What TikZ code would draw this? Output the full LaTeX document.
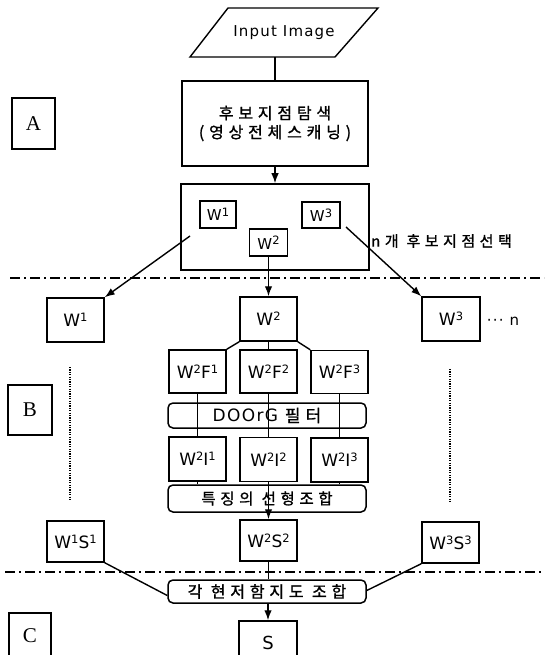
\documentclass[tikz,border=0pt]{standalone}
\usepackage{fontspec}
\setmainfont[LetterSpace=8]{DejaVu Sans}
\newfontfamily\kr[LetterSpace=30,FakeBold=1.2]{Noto Sans CJK KR}
\newfontfamily\tms{Liberation Serif}
\usetikzlibrary{arrows.meta}
\newcommand\supx[1]{\raisebox{0.3em}{\fontsize{11.5}{11}\selectfont #1}}
\begin{document}
\begin{tikzpicture}[x=1pt,y=-1pt,
  bx/.style={draw, line width=1.5pt, inner sep=0pt, font=\fontsize{17}{18}\selectfont},
  rbx/.style={bx, rounded corners=5pt},
  krt/.style={font=\kr\fontsize{16}{19}\selectfont},
  lbl/.style={draw, line width=1.1pt, inner sep=0pt, font=\tms\fontsize{21}{22}\selectfont},
  ln/.style={line width=1.4pt},
  ar/.style={ln, -{Latex[length=10pt,width=7.5pt]}},
  dd/.style={line width=2pt, dash pattern=on 10pt off 4pt on 2pt off 4pt},
  dt/.style={line width=2.2pt, dash pattern=on 1.2pt off 1.2pt}]
\useasboundingbox (0,0) rectangle (544,655);
\clip (0,0) rectangle (544,655);
\fill[white] (0,0) rectangle (544,655);

% input
\draw[ln] (228,8) -- (378,8) -- (335,57) -- (190,57) -- cycle;
\node[inner sep=0pt, minimum height=49pt, font=\fontsize{15}{16}\selectfont] (inp) at (284,32.5) {Input Image};

% stage A
\node[bx, krt, minimum width=186pt, minimum height=85pt, align=center] (b1) at (275,123.5) {후보지점탐색\\[0pt](영상전체스캐닝)};
\node[bx, minimum width=188pt, minimum height=86pt] (b2) at (275,227) {};
\node[bx, minimum width=36pt, minimum height=27pt, font=\fontsize{15}{16}\selectfont] (w1s) at (218,214.5) {W\supx{1}};
\node[bx, minimum width=38pt, minimum height=26pt, font=\fontsize{15}{16}\selectfont] (w3s) at (321,215) {W\supx{3}};
\node[bx, minimum width=38pt, minimum height=27pt, font=\fontsize{15}{16}\selectfont] (w2s) at (268.5,242.5) {W\supx{2}};
\node[anchor=west, inner sep=0pt, font=\kr\fontsize{15}{16}\selectfont] (sel) at (371,241) {n개 후보지점선택};

\node[lbl, minimum width=43pt, minimum height=51pt] (A) at (33.5,123.5) {A};
\node[lbl, minimum width=44pt, minimum height=50pt] (B) at (30,410) {B};
\node[lbl, minimum width=42pt, minimum height=46pt] (C) at (30,636) {C};

\draw[ln] (inp.south -| b1.north) -- (b1.north);
\draw[ar] (b1.south) -- (b2.north);

\draw[dd] (10,278) -- (544,278);

% stage B
\node[bx, minimum width=57pt, minimum height=44pt] (w1b) at (75.5,320) {W\supx{1}};
\node[bx, minimum width=57pt, minimum height=44pt] (w2b) at (268.5,319) {W\supx{2}};
\node[bx, minimum width=58pt, minimum height=44pt] (w3b) at (451,319) {W\supx{3}};
\node[inner sep=0pt, font=\fontsize{15}{16}\selectfont] (dots) at (503,321) {··· n};

\coordinate (la) at (190,236);
\coordinate (ra) at (346,227);
\draw[ar] (la) -- (w1b.north east);
\draw[ar] (w2s.south) -- (w2b.north);
\draw[ar] (ra) -- (w3b.north west);

\node[bx, minimum width=57pt, minimum height=43pt] (f1) at (197.5,371.5) {W\supx{2}F\supx{1}};
\node[bx, minimum width=57pt, minimum height=43pt] (f2) at (268.5,371.5) {W\supx{2}F\supx{2}};
\node[bx, minimum width=57pt, minimum height=43pt] (f3) at (339.5,372) {W\supx{2}F\supx{3}};

\node[rbx, minimum width=198pt, minimum height=25pt, font=\fontsize{17}{18}\selectfont] (dog) at (267,415.5) {DOOrG {\kr\fontsize{17}{18}\selectfont 필터}};

\node[bx, minimum width=57pt, minimum height=44pt] (i1) at (197.5,459) {W\supx{2}I\supx{1}};
\node[bx, minimum width=57pt, minimum height=44pt] (i2) at (268.5,459.5) {W\supx{2}I\supx{2}};
\node[bx, minimum width=57pt, minimum height=44pt] (i3) at (339.5,460) {W\supx{2}I\supx{3}};

\node[rbx, minimum width=198pt, minimum height=27pt, font=\kr\fontsize{15.5}{16}\selectfont] (lin) at (267,498.5) {특징의 선형조합};

\node[bx, minimum width=57pt, minimum height=41pt] (s1) at (75.5,541.5) {W\supx{1}S\supx{1}};
\node[bx, minimum width=57pt, minimum height=41pt] (s2) at (268.5,540.5) {W\supx{2}S\supx{2}};
\node[bx, minimum width=57pt, minimum height=41pt] (s3) at (450.5,542.5) {W\supx{3}S\supx{3}};

\draw[ln] (w2b.south west) -- (f1.north east);
\draw[ln] (w2b.south) -- (f2.north);
\draw[ln] (w2b.south east) -- (f3.north west);
\draw[ln] (f1.south) -- (i1.north);
\draw[ln] (f2.south) -- (i2.north);
\draw[ln] (f3.south) -- (i3.north);
\draw[ln] (i1.south) -- (i1.south |- lin.north);
\draw[ln] (i3.south) -- (i3.south |- lin.north);
\draw[ar] (i2.south) -- (s2.north);

\draw[dt] (70,367) -- (70,500);
\draw[dt] (450,369) -- (450,503);

\draw[dd] (5,572) -- (544,572);

% stage C
\node[rbx, minimum width=198pt, minimum height=23pt, font=\kr\fontsize{16}{17}\selectfont] (comb) at (267,591.5) {각 현저함지도 조합};
\node[bx, minimum width=58pt, minimum height=44pt, font=\fontsize{18}{18}\selectfont] (S) at (268,643) {S};

\draw[ln] (s1.south east) -- ([yshift=-4pt]comb.west);
\draw[ln] (s2.south) -- (comb.north -| s2.south);
\draw[ln] (s3.south west) -- ([yshift=1pt]comb.east);
\draw[ar] (comb.south -| S.north) -- (S.north);
\end{tikzpicture}
\end{document}
